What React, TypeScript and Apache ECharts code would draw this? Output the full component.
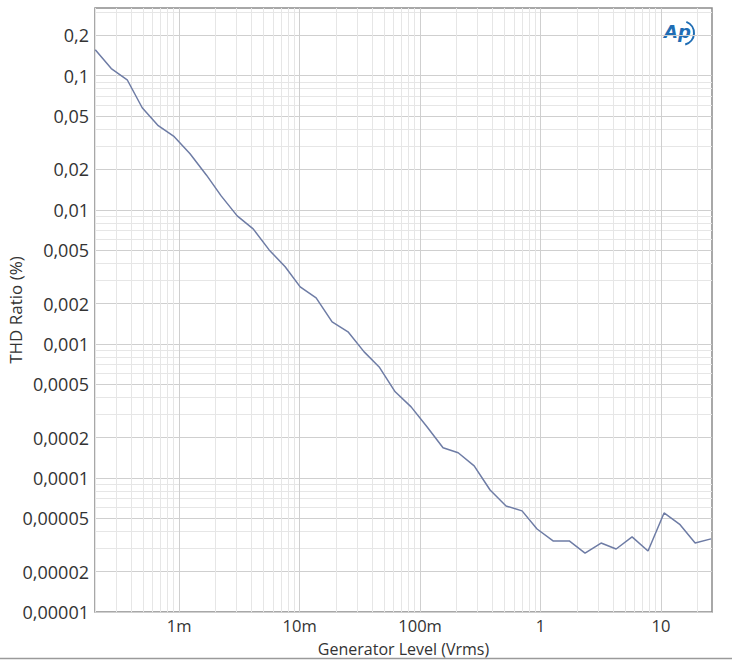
import React, { useEffect, useRef } from "react";
import * as echarts from "echarts";

// Generator level (Vrms)
const generatorLevel = [
  0.000201, 0.000273, 0.00037, 0.000493, 0.00067, 0.00091, 0.00123, 0.00168,
  0.00223, 0.00303, 0.00411, 0.00558, 0.00758, 0.0101, 0.0137, 0.0186, 0.0252,
  0.0343, 0.0457, 0.0621, 0.0842, 0.114, 0.155, 0.207, 0.281, 0.381, 0.517,
  0.702, 0.935, 1.27, 1.73, 2.34, 3.18, 4.24, 5.75, 7.8, 10.6, 14.4, 19.2, 26.0,
];
// THD ratio (%)
const thdRatio = [
  0.156, 0.113, 0.0933, 0.0577, 0.0424, 0.0351, 0.0262, 0.0182, 0.0127,
  0.00901, 0.00721, 0.00502, 0.00376, 0.00266, 0.0022, 0.00146, 0.00123,
  0.000871, 0.000673, 0.000439, 0.000339, 0.000241, 0.000168, 0.000154,
  0.000123, 0.0000813, 0.0000618, 0.0000568, 0.0000416, 0.0000339, 0.0000339,
  0.0000275, 0.0000327, 0.0000295, 0.0000363, 0.0000285, 0.0000548, 0.0000448,
  0.0000327, 0.0000351,
];

const yTickValues = [
  0.00001, 0.00002, 0.00005, 0.0001, 0.0002, 0.0005, 0.001, 0.002, 0.005, 0.01,
  0.02, 0.05, 0.1, 0.2,
];
const yTickLabels = [
  "0,00001", "0,00002", "0,00005", "0,0001", "0,0002", "0,0005", "0,001",
  "0,002", "0,005", "0,01", "0,02", "0,05", "0,1", "0,2",
];
const xTickValues = [0.001, 0.01, 0.1, 1, 10];
const xTickLabels = ["1m", "10m", "100m", "1", "10"];

const xRange = [0.0002, 26.5];
const yRange = [0.00001, 0.32];

const L = (v: number) => Math.log10(v);

function minorValues(lo: number, hi: number) {
  const out: number[] = [];
  for (let e = Math.floor(L(lo)) - 1; e <= Math.ceil(L(hi)); e++) {
    for (let k = 1; k <= 9; k++) {
      const v = k * Math.pow(10, e);
      if (v >= lo * 0.999 && v <= hi * 1.001) out.push(L(v));
    }
  }
  return out;
}

function labelFor(values: number[], labels: string[]) {
  return (val: number) => {
    let best = 0;
    let bd = Infinity;
    values.forEach((v, i) => {
      const d = Math.abs(L(v) - val);
      if (d < bd) {
        bd = d;
        best = i;
      }
    });
    return bd < 0.01 ? labels[best] : "";
  };
}

const FONT = "'Open Sans', 'Noto Sans', sans-serif";
const TEXT = "#333333";
const MAJOR = "#cfcfcf";
const MINOR = "#e6e6e6";

export default function App() {
  const ref = useRef<HTMLDivElement>(null);

  useEffect(() => {
    if (!ref.current) return;
    const chart = echarts.init(ref.current, undefined, { renderer: "svg" });

    const xMin = L(xRange[0]);
    const xMax = L(xRange[1]);
    const yMin = L(yRange[0]);
    const yMax = L(yRange[1]);

    const xMinor = minorValues(xRange[0], xRange[1]);
    const yMinor = minorValues(yRange[0], yRange[1]);
    const xMajor = xTickValues.map(L);
    const yMajor = yTickValues.map(L);

    const data = generatorLevel.map((x, i) => [L(x), L(thdRatio[i])]);

    chart.setOption({
      animation: false,
      backgroundColor: "#ffffff",
      textStyle: { fontFamily: FONT },
      grid: {
        left: 95,
        right: 20,
        top: 8,
        bottom: 48,
        containLabel: false,
        outerBoundsMode: "none",
        show: true,
        borderColor: "#8c8c8c",
        borderWidth: 1.5,
        backgroundColor: "transparent",
      },
      xAxis: [
        {
          type: "value",
          min: xMin,
          max: xMax,
          position: "bottom",
          axisLine: { show: false },
          axisTick: { show: false, customValues: xMinor },
          axisLabel: { show: false },
          splitLine: { show: true, lineStyle: { color: MINOR, width: 1 } },
        },
        {
          type: "value",
          min: xMin,
          max: xMax,
          position: "bottom",
          axisLine: { show: false },
          axisTick: { show: false, customValues: xMajor },
          axisLabel: {
            show: true,
            customValues: xMajor,
            formatter: labelFor(xTickValues, xTickLabels),
            color: TEXT,
            fontFamily: FONT,
            fontSize: 16.5,
            lineHeight: 17,
            margin: 5,
          },
          splitLine: { show: true, lineStyle: { color: MAJOR, width: 1 } },
          name: "Generator Level (Vrms)",
          nameLocation: "middle",
          nameGap: 28,
          nameMoveOverlap: false,
          nameTextStyle: {
            color: TEXT,
            fontFamily: FONT,
            fontSize: 16,
            lineHeight: 17,
            verticalAlign: "top",
          },
        },
      ],
      yAxis: [
        {
          type: "value",
          min: yMin,
          max: yMax,
          position: "left",
          axisLine: { show: false },
          axisTick: { show: false, customValues: yMinor },
          axisLabel: { show: false },
          splitLine: { show: true, lineStyle: { color: MINOR, width: 1 } },
        },
        {
          type: "value",
          min: yMin,
          max: yMax,
          position: "left",
          axisLine: { show: false },
          axisTick: { show: false, customValues: yMajor },
          axisLabel: {
            show: true,
            customValues: yMajor,
            formatter: labelFor(yTickValues, yTickLabels),
            color: TEXT,
            fontFamily: FONT,
            fontSize: 18,
            margin: 6,
          },
          splitLine: { show: true, lineStyle: { color: MAJOR, width: 1 } },
          name: "THD Ratio (%)",
          nameLocation: "middle",
          nameGap: 71,
          nameRotate: 90,
          nameMoveOverlap: false,
          nameTextStyle: {
            color: TEXT,
            fontFamily: FONT,
            fontSize: 17,
          },
        },
      ],
      graphic: [
        {
          type: "line",
          shape: { x1: 0, y1: 658.5, x2: 732, y2: 658.5 },
          style: { stroke: "#9a9a9a", lineWidth: 1.5 },
          silent: true,
        },
        {
          type: "text",
          x: 664,
          y: 22,
          style: {
            text: "Ap",
            fill: "#1f6db4",
            fontFamily: "'DejaVu Sans', sans-serif",
            fontStyle: "italic",
            fontWeight: "bold",
            fontSize: 18,
          },
          silent: true,
        },
        {
          type: "arc",
          shape: { cx: 682, cy: 33, r: 12, startAngle: -1.2, endAngle: 1.3 },
          style: { stroke: "#1f6db4", lineWidth: 2, fill: "none" },
          silent: true,
        },
      ],
      series: [
        {
          type: "line",
          xAxisIndex: 0,
          yAxisIndex: 0,
          data,
          showSymbol: false,
          symbol: "none",
          lineStyle: { color: "#6e7ca5", width: 1.5 },
          z: 5,
        },
      ],
    });

    return () => chart.dispose();
  }, []);

  return (
    <div
      ref={ref}
      style={{ position: "fixed", left: 0, top: 0, width: 732, height: 660 }}
    />
  );
}
